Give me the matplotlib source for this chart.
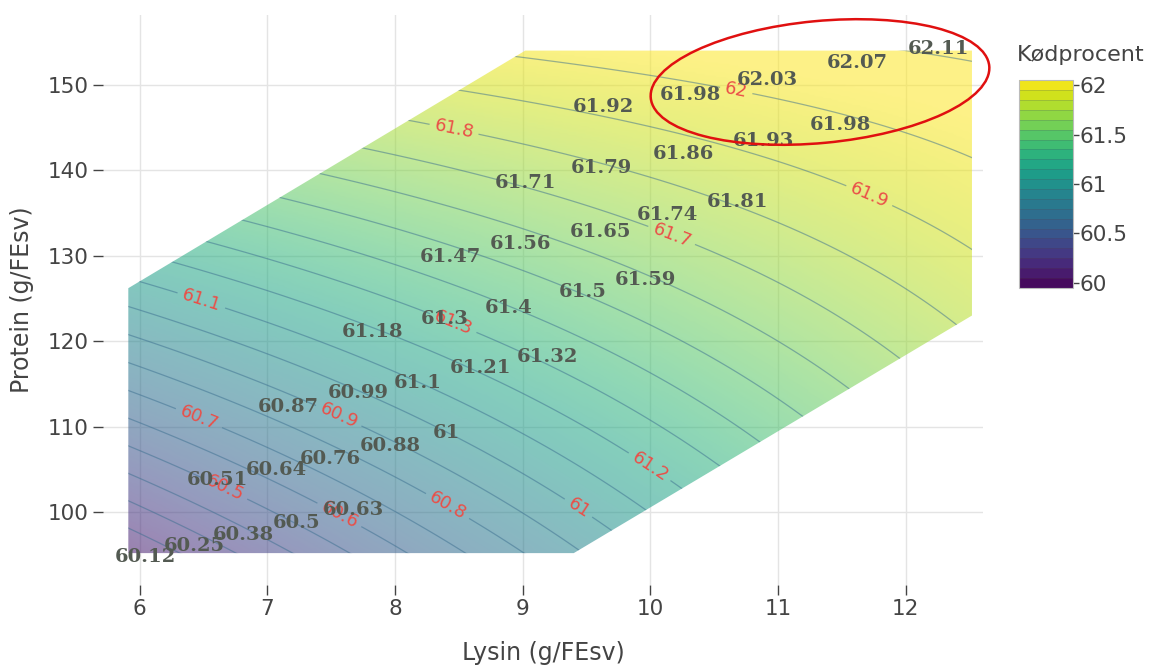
import numpy as np
import matplotlib.pyplot as plt
from matplotlib.patches import Polygon, Ellipse
from matplotlib.colors import Normalize, BoundaryNorm, ListedColormap
import matplotlib.cm as cm

# data points: lysin (g/FEsv), protein (g/FEsv), kødprocent
lysin = [6.04, 6.43, 6.81, 7.23, 7.67,
         6.61, 7.07, 7.49, 7.96, 8.40,
         7.16, 7.71, 8.18, 8.67, 9.19,
         7.82, 8.39, 8.89, 9.47, 9.96,
         8.43, 8.98, 9.61, 10.13, 10.68,
         9.02, 9.62, 10.26, 10.89, 11.49,
         9.63, 10.31, 10.92, 11.62, 12.26]
protein = [94.7, 96.0, 97.3, 98.7, 100.2,
           103.7, 104.9, 106.2, 107.7, 109.3,
           112.3, 113.9, 115.1, 116.9, 118.1,
           121.1, 122.6, 123.9, 125.8, 127.2,
           129.9, 131.4, 132.8, 134.8, 136.3,
           138.5, 140.3, 141.9, 143.4, 145.3,
           147.4, 148.8, 150.6, 152.6, 154.2]
kod = [60.12, 60.25, 60.38, 60.5, 60.63,
       60.51, 60.64, 60.76, 60.88, 61,
       60.87, 60.99, 61.1, 61.21, 61.32,
       61.18, 61.3, 61.4, 61.5, 61.59,
       61.47, 61.56, 61.65, 61.74, 61.81,
       61.71, 61.79, 61.86, 61.93, 61.98,
       61.92, 61.98, 62.03, 62.07, 62.11]

# corners of the feasible region
region_lys = [5.91, 5.91, 9.02, 12.52, 12.52, 9.40]
region_prot = [95.2, 126.2, 154.0, 154.0, 123.0, 95.2]

contour_levels = np.round(np.arange(60.0, 62.15, 0.1), 1)
label_levels = [60.5, 60.6, 60.7, 60.8, 60.9, 61.0, 61.1, 61.2, 61.3, 61.7, 61.8, 61.9, 62.0]
label_spots = [(6.65, 102.3), (7.55, 99.3), (6.45, 110.5), (8.38, 99.9), (7.55, 111.0),
               (9.39, 99.4), (6.47, 124.2), (9.95, 104.3), (8.45, 121.9), (10.16, 132.1),
               (8.45, 143.9), (11.70, 136.5), (10.67, 149.1)]
cbar_ticks = [60, 60.5, 61, 61.5, 62]

# smooth response surface fitted to the points (quadratic)
lx = np.array(lysin)
py = np.array(protein)
A = np.column_stack([np.ones_like(lx), lx, py, lx**2, lx*py, py**2])
coef, *_ = np.linalg.lstsq(A, np.array(kod), rcond=None)

gx, gy = np.meshgrid(np.linspace(5.8, 12.6, 300), np.linspace(94, 155, 300))
gz = (coef[0] + coef[1]*gx + coef[2]*gy + coef[3]*gx**2
      + coef[4]*gx*gy + coef[5]*gy**2)

vmin, vmax = 59.95, 62.05
norm = Normalize(vmin, vmax)
grey = '#444444'

fig = plt.figure(figsize=(11.68, 6.68), dpi=100)
ax = fig.add_axes([0.088, 0.124, 0.754, 0.854])

ax.set_xlim(5.71, 12.61)
ax.set_ylim(91.45, 158.2)
ax.set_xticks(range(6, 13))
ax.set_yticks(range(100, 151, 10))
ax.grid(True, color='#e4e4e4', lw=1)
ax.set_axisbelow(True)
for s in ax.spines.values():
    s.set_visible(False)
ax.tick_params(direction='out', length=7, width=1, color=grey,
               labelcolor=grey, labelsize=15.5, pad=3)

region = Polygon(np.column_stack([region_lys, region_prot]), closed=True,
                 facecolor='none', edgecolor='none', transform=ax.transData)
ax.add_patch(region)

img = ax.imshow(gz, extent=(5.8, 12.6, 94, 155), origin='lower', cmap='viridis',
                norm=norm, alpha=0.55, interpolation='bilinear', aspect='auto', zorder=1)
img.set_clip_path(region)

line_kw = dict(colors='#3b6e8f', linewidths=0.9, alpha=0.5, zorder=2)
plain = [l for l in contour_levels if not any(abs(l - m) < 1e-6 for m in label_levels)]
cs = ax.contour(gx, gy, gz, levels=plain, **line_kw)
cs.set_clip_path(region)
for lv, spot in zip(label_levels, label_spots):
    csl = ax.contour(gx, gy, gz, levels=[lv], **line_kw)
    csl.set_clip_path(region)
    texts = csl.clabel(manual=[spot], inline=True, inline_spacing=5,
                       fontsize=13, colors='#ea4f48', fmt=lambda v: f'{v:g}')
    for t in texts:
        t.set_alpha(1)

for x, y, v in zip(lysin, protein, kod):
    ax.text(x, y, f'{v:g}', ha='center', va='center', fontsize=14,
            fontweight='bold', family='DejaVu Serif', color='#535a52', zorder=5)

ax.set_xlabel('Lysin (g/FEsv)', fontsize=17, color=grey, labelpad=16)
ax.set_ylabel('Protein (g/FEsv)', fontsize=17, color=grey, labelpad=10)

# highlight ellipse, drawn in inches
ell = Ellipse((8.20, 5.86), 3.40, 1.22, angle=5.4, fill=False, edgecolor='#e01010',
              lw=1.8, transform=fig.dpi_scale_trans, clip_on=False, zorder=10)
fig.add_artist(ell)

# colorbar
bounds = np.round(np.arange(vmin, vmax + 0.01, 0.1), 2)
centers = (bounds[:-1] + bounds[1:]) / 2
band_cmap = ListedColormap(plt.get_cmap('viridis')(norm(centers)))
sm = cm.ScalarMappable(norm=BoundaryNorm(bounds, band_cmap.N), cmap=band_cmap)
cax = fig.add_axes([0.8724, 0.569, 0.046, 0.311])
cb = fig.colorbar(sm, cax=cax, ticks=cbar_ticks, drawedges=True)
cb.dividers.set_color((0.3, 0.3, 0.3, 0.25))
cb.dividers.set_linewidth(0.6)
cb.outline.set_edgecolor('#bbbbbb')
cb.ax.minorticks_off()
cb.ax.set_yticklabels([f'{t:g}' for t in cbar_ticks])
cb.ax.tick_params(length=4, width=1, color=grey, labelcolor=grey,
                  labelsize=15.5, pad=1)
fig.text(0.871, 0.918, 'Kødprocent', fontsize=16, color=grey, va='center', ha='left')

fig.savefig('out.png', dpi=100)
